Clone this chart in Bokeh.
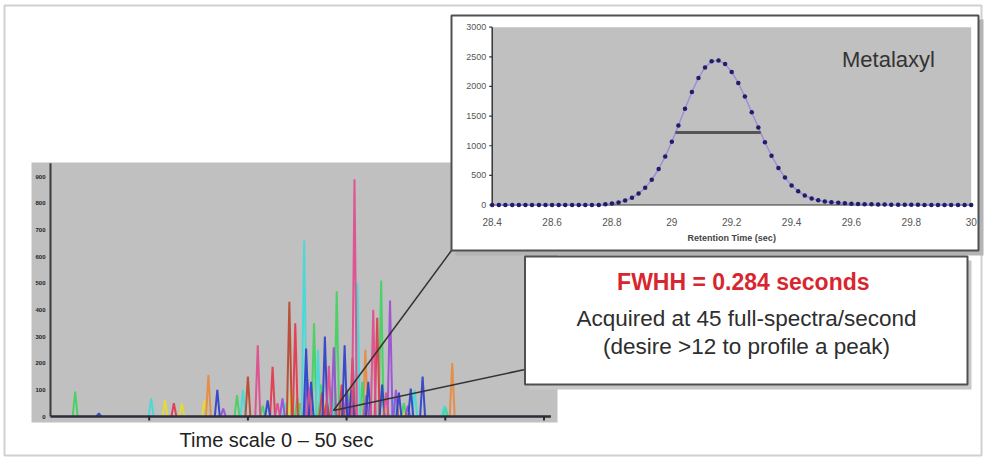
from bokeh.plotting import figure
from bokeh.models import Range1d
from bokeh.core.properties import value
from bokeh.embed import file_html
from bokeh.resources import INLINE

# ---------------------------------------------------------------- data
# Main chromatogram (time scale 0-50 s): peak apex times (s) and heights (axis units)
chrom_xticks = [0, 10, 20, 30, 40, 50]
chrom_yticks = [0, 1, 2, 3, 4, 5, 6, 7, 8, 9]
chrom_ytick_labels = ["0", "100", "200", "300", "400", "500", "600", "700", "800", "900"]

green_t = [2.5, 18.9, 21.5, 25.0, 26.7, 27.4, 29.0, 30.2, 31.6, 33.5, 35.8, 40.0]
green_h = [0.93, 0.8, 0.4, 0.7, 3.5, 1.2, 4.7, 0.9, 1.3, 5.1, 0.5, 0.35]
blue_t = [4.9, 16.9, 22.0, 25.9, 26.4, 27.8, 29.8, 30.5, 32.2, 33.6, 35.3, 36.5, 37.7]
blue_h = [0.12, 1.0, 0.6, 2.55, 1.3, 3.0, 2.67, 1.0, 1.3, 1.2, 0.9, 1.05, 1.5]
cyan_t = [10.2, 19.5, 23.8, 25.7, 27.1, 28.4, 31.1, 34.8, 36.9, 39.9]
cyan_h = [0.68, 1.0, 0.5, 6.6, 2.5, 1.1, 5.0, 0.7, 1.0, 0.4]
yellow_t = [11.6, 13.3, 15.6, 24.4, 27.9, 33.9, 35.2, 36.0]
yellow_h = [0.62, 0.5, 0.6, 1.1, 0.5, 0.3, 0.4, 0.25]
red_t = [12.5, 22.5, 24.8, 27.5, 29.5, 30.6, 33.1]
red_h = [0.5, 1.86, 3.5, 0.9, 1.2, 2.2, 3.7]
orange_t = [16.0, 25.3, 29.3, 31.9, 40.7]
orange_h = [1.55, 0.5, 0.6, 2.5, 2.0]
brown_t = [20.0, 24.2, 28.0]
brown_h = [1.5, 4.3, 0.6]
pink_t = [21.0, 23.0, 26.2, 28.2, 30.8, 32.7, 34.0]
pink_h = [2.67, 0.5, 1.0, 1.9, 8.9, 4.0, 0.9]
purple_t = [17.5, 23.5, 26.0, 28.7, 30.0, 32.0, 34.4, 35.0, 36.2]
purple_h = [0.3, 0.68, 1.4, 2.6, 1.0, 0.8, 4.35, 1.0, 0.4]

# Inset: Metalaxyl peak, 45 full spectra / second
inset_time = [
    28.400, 28.422, 28.444, 28.467, 28.489, 28.511, 28.533, 28.556, 28.578, 28.600,
    28.622, 28.644, 28.667, 28.689, 28.711, 28.733, 28.756, 28.778, 28.800, 28.822,
    28.844, 28.867, 28.889, 28.911, 28.933, 28.956, 28.978, 29.000, 29.022, 29.044,
    29.067, 29.089, 29.111, 29.133, 29.156, 29.178, 29.200, 29.222, 29.244, 29.267,
    29.289, 29.311, 29.333, 29.356, 29.378, 29.400, 29.422, 29.444, 29.467, 29.489,
    29.511, 29.533, 29.556, 29.578, 29.600, 29.622, 29.644, 29.667, 29.689, 29.711,
    29.733, 29.756, 29.778, 29.800, 29.822, 29.844, 29.867, 29.889, 29.911, 29.933,
    29.956, 29.978, 30.000,
]
inset_signal = [
    0, 0, 0, 0, 0, 0, 0, 0, 0, 0,
    0, 0, 0, 0, 0, 0, 0, 14, 25, 44,
    74, 124, 194, 292, 426, 607, 820, 1068, 1342, 1624,
    1908, 2144, 2321, 2424, 2440, 2377, 2245, 2058, 1829, 1565,
    1307, 1059, 832, 626, 462, 331, 232, 160, 110, 80,
    60, 47, 37, 29, 23, 18, 14, 11, 9, 7,
    6, 5, 4, 3, 3, 2, 2, 2, 1, 1,
    1, 1, 0,
]
inset_xticks = [28.4, 28.6, 28.8, 29.0, 29.2, 29.4, 29.6, 29.8, 30.0]
inset_xtick_labels = ["28.4", "28.6", "28.8", "29", "29.2", "29.4", "29.6", "29.8", "30"]
inset_yticks = [0, 500, 1000, 1500, 2000, 2500, 3000]
inset_ytick_labels = ["0", "500", "1000", "1500", "2000", "2500", "3000"]
fwhh_x = [29.012, 29.297]
fwhh_level = 1222

# ---------------------------------------------------------------- layout
W, H = 985, 459
FONT = value("Liberation Sans")


def mapped_range(v0, px0, v1, px1, px_start, px_end):
    k = (px1 - px0) / (v1 - v0)
    return Range1d(start=v0 + (px_start - px0) / k, end=v0 + (px_end - px0) / k)


p = figure(width=W, height=H, x_range=Range1d(0, W), y_range=Range1d(H, 0),
           x_axis_type=None, y_axis_type=None, toolbar_location=None,
           output_backend="svg", min_border=0,
           background_fill_color="white", border_fill_color="white")
p.min_border_left = p.min_border_right = p.min_border_top = p.min_border_bottom = 0
p.outline_line_color = None

# data ranges placed where each panel sits on the page
p.extra_x_ranges = {
    "cx": mapped_range(0, 50, 50, 543.5, 0, W),
    "ix": mapped_range(28.4, 491.7, 30.0, 970.7, 0, W),
}
p.extra_y_ranges = {
    "cy": mapped_range(0, 416, 9, 176, H, 0),
    "iy": mapped_range(0, 204.5, 3000, 26.7, H, 0),
}
C = dict(x_range_name="cx", y_range_name="cy")
I = dict(x_range_name="ix", y_range_name="iy")

# outer frame of the slide
p.quad(left=4, right=981, top=5, bottom=455, fill_color=None,
       line_color="#d0d0d0", line_width=2)

# ---------------- main chromatogram
p.quad(left=31, right=557, top=162, bottom=422, fill_color="#c0c0c0", line_color=None)

PEAK_HALF_WIDTH = 0.25
chrom_series = [
    (yellow_t, yellow_h, "#e6dc2c"),
    (orange_t, orange_h, "#e8893a"),
    (green_t, green_h, "#3fd35e"),
    (cyan_t, cyan_h, "#3fdcd8"),
    (purple_t, purple_h, "#9a4ad8"),
    (brown_t, brown_h, "#b8452a"),
    (red_t, red_h, "#e4344a"),
    (blue_t, blue_h, "#2a3ec8"),
    (pink_t, pink_h, "#e04a8c"),
]
for t_list, h_list, col in chrom_series:
    xs = [[t - PEAK_HALF_WIDTH, t, t + PEAK_HALF_WIDTH] for t in t_list]
    ys = [[0, h, 0] for h in h_list]
    p.multi_line(xs, ys, line_color=col, line_width=2, line_alpha=0.9, **C)

p.segment(x0=[0], y0=[0], x1=[0], y1=[9.5], line_color="#3a3a3a", line_width=2, **C)
p.segment(x0=[0], y0=[0], x1=[50.7], y1=[0], line_color="#2c2c3c", line_width=2.5, **C)
p.segment(x0=chrom_xticks[1:], y0=[0] * 5, x1=chrom_xticks[1:], y1=[-0.15] * 5,
          line_color="#2c2c2c", line_width=2, **C)
p.text(x=[0] * len(chrom_yticks), y=chrom_yticks, text=chrom_ytick_labels, x_offset=-5,
       text_align="right", text_baseline="middle", text_font=FONT,
       text_font_size="6px", text_font_style="bold", text_color="#222222", **C)
p.text(x=[276], y=[439], text=["Time scale 0 \u2013 50 sec"], text_align="center",
       text_baseline="middle", text_font=FONT, text_font_size="20px", text_color="#222222")

# connector lines from the 28.4-30 s window
p.segment(x0=[333, 333], y0=[410, 410], x1=[451, 524.5], y1=[250, 369],
          line_color="#333333", line_width=1.5)

# ---------------- inset
p.quad(left=455, right=983, top=19, bottom=255, fill_color="#b4b4b4", line_color=None)
p.quad(left=451, right=978, top=15, bottom=250, fill_color="white",
       line_color="#505050", line_width=2)
p.quad(left=inset_xticks[0], right=inset_xticks[-1], bottom=inset_yticks[0],
       top=inset_yticks[-1], fill_color="#c0c0c0", line_color=None, **I)

tick_len = 3 / ((970.7 - 491.7) / 1.6)
p.segment(x0=[28.4], y0=[0], x1=[28.4], y1=[3000], line_color="#333333", line_width=1.5, **I)
p.segment(x0=[28.4 - tick_len] * len(inset_yticks), y0=inset_yticks,
          x1=[28.4] * len(inset_yticks), y1=inset_yticks, line_color="#333333",
          line_width=1.2, **I)
p.segment(x0=[28.4], y0=[0], x1=[30.0], y1=[0], line_color="#333333", line_width=1, **I)
p.text(x=[28.4] * len(inset_yticks), y=inset_yticks, text=inset_ytick_labels, x_offset=-6,
       text_align="right", text_baseline="middle", text_font=FONT, text_font_size="9px",
       text_color="#555555", **I)
p.text(x=inset_xticks, y=[0] * len(inset_xticks), text=inset_xtick_labels, y_offset=17,
       text_align="center", text_baseline="middle", text_font=FONT, text_font_size="10px",
       text_color="#555555", **I)
p.text(x=[29.2], y=[0], text=["Retention Time (sec)"], y_offset=33, text_align="center",
       text_baseline="middle", text_font=FONT, text_font_size="9px",
       text_font_style="bold", text_color="#444444", **I)

p.line(inset_time, inset_signal, line_color="#a48ad8", line_width=1.5, **I)
p.scatter(inset_time, inset_signal, size=4.5, fill_color="#1e1e6a", line_color=None, **I)
p.line(fwhh_x, [fwhh_level, fwhh_level], line_color="#555555", line_width=3, **I)
p.text(x=[888], y=[59], text=["Metalaxyl"], text_align="center", text_baseline="middle",
       text_font=FONT, text_font_size="22px", text_color="#333333")

# ---------------- annotation box
p.quad(left=528.5, right=971, top=260, bottom=389, fill_color="#c8c8c8", line_color=None)
p.quad(left=524.5, right=967, top=256, bottom=384, fill_color="white",
       line_color="#505050", line_width=2)
p.text(x=[746], y=[281], text=["FWHH  = 0.284 seconds"], text_align="center",
       text_baseline="middle", text_font=FONT, text_font_size="23px",
       text_font_style="bold", text_color="#d8262f")
p.text(x=[746, 746], y=[318, 346],
       text=["Acquired at 45 full-spectra/second", "(desire >12 to profile a peak)"],
       text_align="center", text_baseline="middle", text_font=FONT,
       text_font_size="22.5px", text_color="#2e2e2e")

open("out.html", "w").write(file_html(p, INLINE))
